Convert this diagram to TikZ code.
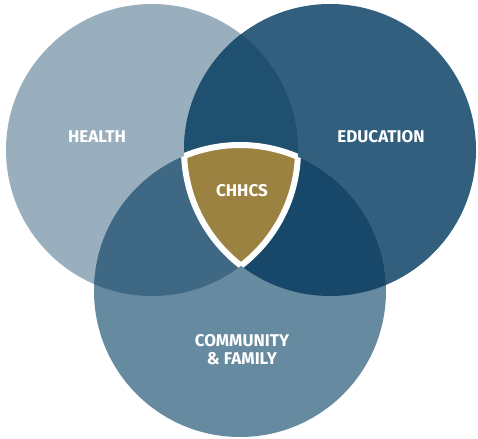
\documentclass[tikz,border=0pt]{standalone}
\usepackage{fontspec}
\setmainfont{Fira Sans}
\usepackage{tikz}

\definecolor{healthc}{HTML}{9AAFBD}
\definecolor{educc}{HTML}{335F7E}
\definecolor{commc}{HTML}{668A9F}
\definecolor{hec}{HTML}{1F5070}
\definecolor{hcc}{HTML}{3E6883}
\definecolor{ecc}{HTML}{174869}
\definecolor{goldc}{HTML}{9C8241}

\tikzset{
  lbl/.style={text=white,font=\bfseries\fontsize{17}{18}\selectfont,align=center}
}

\begin{document}
\begin{tikzpicture}[x=1pt,y=-1pt]
  \useasboundingbox (0,0) rectangle (478,438);

  % circles
  \fill[healthc] (152,150) circle (146);
  \fill[educc] (330,150) circle (146);
  \fill[commc] (240,291) circle (146);

  % health and education
  \begin{scope}
    \clip (152,150) circle (146);
    \fill[hec] (330,150) circle (146);
  \end{scope}

  % health and community
  \begin{scope}
    \clip (152,150) circle (146);
    \fill[hcc] (240,291) circle (146);
  \end{scope}

  % education and community
  \begin{scope}
    \clip (330,150) circle (146);
    \fill[ecc] (240,291) circle (146);
  \end{scope}

  % middle
  \begin{scope}
    \clip (152,150) circle (146);
    \clip (330,150) circle (146);
    \fill[goldc] (240,291) circle (146);
  \end{scope}
  \begin{scope}
    \clip (152,150) circle (146);
    \clip (330,150) circle (146);
    \draw[white,line width=6pt] (240,291) circle (146);
  \end{scope}
  \begin{scope}
    \clip (240,291) circle (146);
    \clip (330,150) circle (146);
    \draw[white,line width=6pt] (152,150) circle (146);
  \end{scope}
  \begin{scope}
    \clip (240,291) circle (146);
    \clip (152,150) circle (146);
    \draw[white,line width=6pt] (330,150) circle (146);
  \end{scope}

  \node[lbl] (health) at (97,137) {HEALTH};
  \node[lbl] (edu) at (381,137) {EDUCATION};
  \node[lbl] (mid) at (242,191) {CHHCS};
  \node[lbl] (comm) at (242,350) {COMMUNITY\\\& FAMILY};
\end{tikzpicture}
\end{document}
